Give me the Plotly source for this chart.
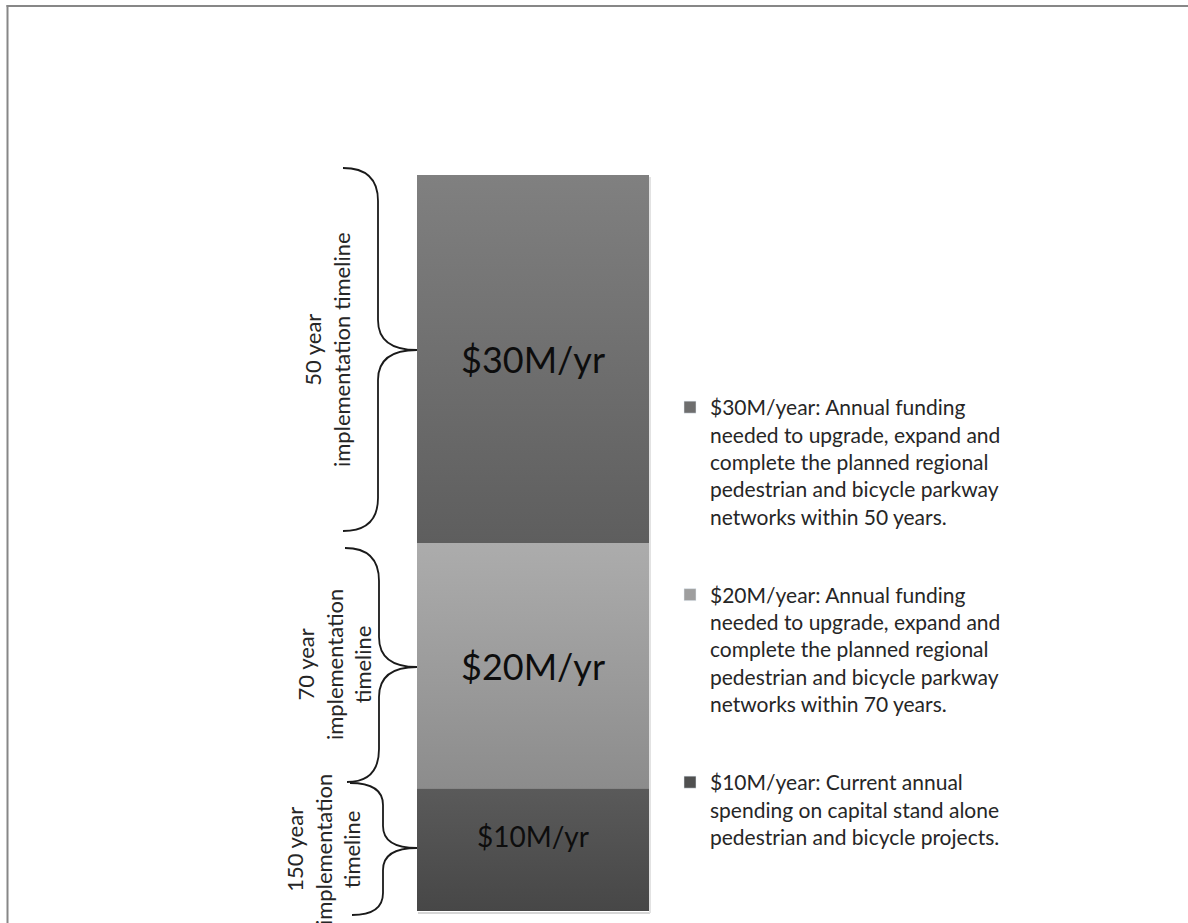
import plotly.graph_objects as go

# ---- data ----
segment_labels = ["$10M/yr", "$20M/yr", "$30M/yr"]
segment_values = [10, 20, 30]
legend_names = [
    "$10M/year: Current annual<br>spending on capital stand alone<br>pedestrian and bicycle projects.",
    "$20M/year: Annual funding<br>needed to upgrade, expand and<br>complete the planned regional<br>pedestrian and bicycle parkway<br>networks within 70 years.",
    "$30M/year: Annual funding<br>needed to upgrade, expand and<br>complete the planned regional<br>pedestrian and bicycle parkway<br>networks within 50 years.",
]
timeline_labels = [
    "150 year<br>implementation<br>timeline",
    "70 year<br>implementation<br>timeline",
    "50 year<br>implementation timeline",
]

# ---- styles ----
W, H = 1188, 923
FONT = "Lato"
grad_bottom = ["#474747", "#8c8c8c", "#5e5e5e"]
grad_top = ["#5a5a5a", "#acacac", "#808080"]
legend_colors = ["#505050", "#9e9e9e", "#6e6e6e"]
label_sizes = [28, 36, 36]
label_shift = [14, 0, 0]

fig = go.Figure()

base = 0
for i, v in enumerate(segment_values):
    top = base + v
    fig.add_trace(go.Scatter(
        x=[-0.5, 0.5, 0.5, -0.5, -0.5],
        y=[base, base, top, top, base],
        mode="lines", fill="toself",
        line=dict(width=0, color="rgba(0,0,0,0)"),
        fillgradient=dict(type="vertical",
                          colorscale=[[0, grad_bottom[i]], [1, grad_top[i]]],
                          start=base, stop=top),
        showlegend=False, hoverinfo="skip",
    ))
    fig.add_annotation(x=0, y=base + v / 2, xref="x", yref="y",
                       text=segment_labels[i], showarrow=False,
                       yshift=label_shift[i],
                       font=dict(family=FONT, size=label_sizes[i], color="#0d0d0d"))
    base = top

# legend entries (top segment listed first)
n = len(segment_values)
for i in reversed(range(n)):
    fig.add_trace(go.Bar(x=[None], y=[None], name=legend_names[i],
                         marker=dict(color=legend_colors[i]),
                         legendgroup="g%d" % i, showlegend=True))

# braces (pixel geometry -> paper)
def P(px, py):
    return "%.5f,%.5f" % (px / W, 1 - py / H)

def brace(y0, yt, y1, xe0, xe1, xs, xt, r, rt):
    return ("M" + P(xe0, y0) + " Q" + P(xs, y0) + " " + P(xs, y0 + r) +
            " L" + P(xs, yt - rt) + " Q" + P(xs, yt) + " " + P(xt, yt) +
            " Q" + P(xs, yt) + " " + P(xs, yt + rt) +
            " L" + P(xs, y1 - r) + " Q" + P(xs, y1) + " " + P(xe1, y1))

braces = [
    (783, 848, 915, 350, 352, 383, 417, 22, 22),
    (548, 667, 782, 345, 347, 379, 417, 33, 30),
    (168, 350, 531, 343, 343, 378, 417, 33, 30),
]
for b in braces:
    fig.add_shape(type="path", path=brace(*b), xref="paper", yref="paper",
                  line=dict(color="#1a1a1a", width=1.8))

label_pos = [(323, 850), (334, 665), (327, 350)]
for i, (px, py) in enumerate(label_pos):
    fig.add_annotation(x=px / W, y=1 - py / H, xref="paper", yref="paper",
                       text=timeline_labels[i], textangle=-90, showarrow=False,
                       xanchor="center", yanchor="middle",
                       font=dict(family=FONT, size=22, color="#262626"))

# frame lines
fig.add_shape(type="line", xref="paper", yref="paper",
              x0=7.5 / W, x1=7.5 / W, y0=0, y1=1 - 5 / H,
              line=dict(color="#878787", width=2))
fig.add_shape(type="line", xref="paper", yref="paper",
              x0=6.5 / W, x1=1, y0=1 - 6 / H, y1=1 - 6 / H,
              line=dict(color="#878787", width=2))

# bar shadow hint
fig.add_shape(type="line", xref="paper", yref="paper",
              x0=418 / W, x1=650 / W, y0=1 - 913 / H, y1=1 - 913 / H,
              line=dict(color="#d6d6d6", width=2), layer="below")
fig.add_shape(type="line", xref="paper", yref="paper",
              x0=650 / W, x1=650 / W, y0=1 - 177 / H, y1=1 - 913 / H,
              line=dict(color="#e2e2e2", width=2), layer="below")

px_per_unit = (911 - 175) / sum(segment_values)
fig.update_layout(
    width=W, height=H,
    margin=dict(l=0, r=0, t=0, b=0),
    paper_bgcolor="white", plot_bgcolor="white",
    xaxis=dict(range=[(0 - 533) / 232, (W - 533) / 232], visible=False, fixedrange=True),
    yaxis=dict(range=[-(H - 911) / px_per_unit, 911 / px_per_unit], visible=False, fixedrange=True),
    barmode="stack",
    showlegend=True,
    legend=dict(x=(710 - 40) / W, xanchor="left", y=1 - 387 / H, yanchor="top",
                traceorder="grouped", valign="top", tracegroupgap=48,
                font=dict(family=FONT, size=21, color="#262626"),
                bgcolor="rgba(0,0,0,0)"),
)

fig.write_html("out.html", config={"displayModeBar": False},
               post_script="document.body.style.margin='0px';")
